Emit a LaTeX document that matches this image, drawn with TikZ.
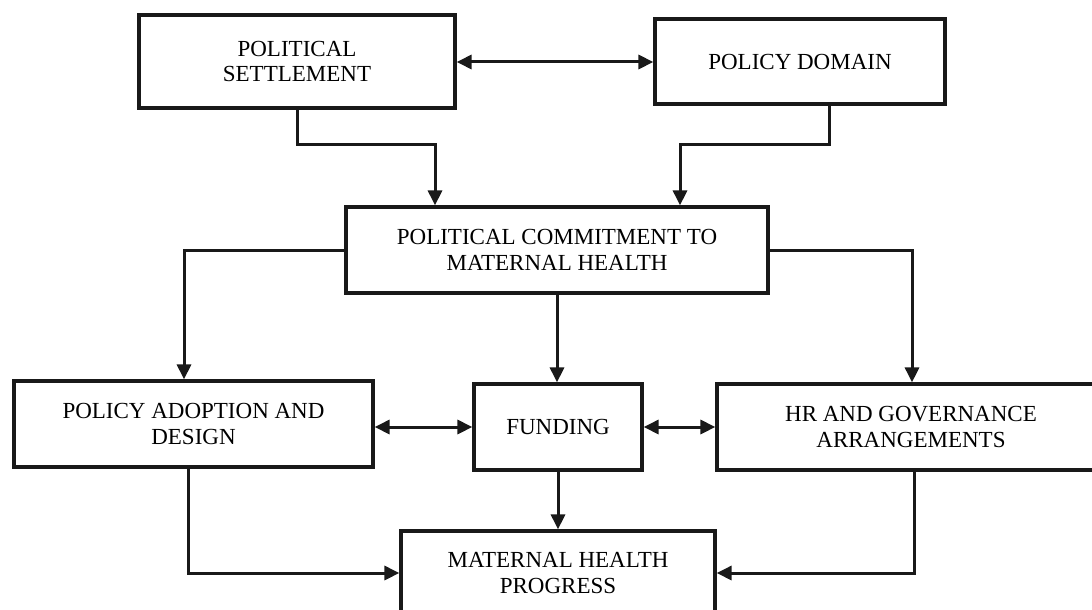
\documentclass[tikz,border=0pt]{standalone}
\usepackage{fontspec}
\setmainfont{Liberation Serif}
\usetikzlibrary{arrows.meta}
\begin{document}
\begin{tikzpicture}[x=1pt,y=-1pt,
  box/.style={draw=black!90, line width=3.2pt, inner sep=0pt, align=center,
    font=\fontsize{23}{25.5}\selectfont},
  conn/.style={draw=black!90, line width=3pt, -{Triangle[length=15pt,width=14pt]}},
  dconn/.style={draw=black!90, line width=3pt, {Triangle[length=15pt,width=14pt]}-{Triangle[length=15pt,width=14pt]}}]
\useasboundingbox (0,0) rectangle (1092,610);
\clip (0,0) rectangle (1092,610);
\fill[white] (0,0) rectangle (1092,610);
% boxes
\node[box, minimum width=316pt, minimum height=93pt] (ps) at (297,61.5) {POLITICAL\\SETTLEMENT};
\node[box, minimum width=290pt, minimum height=85pt] (pd) at (800,61.5) {POLICY DOMAIN};
\node[box, minimum width=422pt, minimum height=86pt] (pc) at (557,250) {POLITICAL COMMITMENT TO\\MATERNAL HEALTH};
\node[box, minimum width=359pt, minimum height=86pt] (pa) at (193.5,424) {POLICY ADOPTION AND\\DESIGN};
\node[box, minimum width=168pt, minimum height=86pt] (fu) at (558,427) {FUNDING};
\node[box, minimum width=388pt, minimum height=86pt] (hr) at (911,427) {HR AND GOVERNANCE\\ARRANGEMENTS};
\node[box, minimum width=314pt, minimum height=84pt] (mh) at (558,573) {MATERNAL HEALTH\\PROGRESS};
% connectors
\draw[dconn] (ps.east |- 0,62) -- (pd.west |- 0,62);
\draw[conn] (ps.south) -- ++(0,35) -| ([xshift=-122pt]pc.north);
\draw[conn] ([xshift=29pt]pd.south) -- ++(0,39) -| ([xshift=123pt]pc.north);
\draw[conn] (pc.west) -| ([xshift=-9.5pt]pa.north);
\draw[conn] (pc.south) -- (pc.south |- fu.north);
\draw[conn] (pc.east) -| ([xshift=1pt]hr.north);
\draw[dconn] (pa.east |- fu.west) -- (fu.west);
\draw[dconn] (fu.east) -- (hr.west);
\draw[conn] (fu.south) -- (mh.north);
\draw[conn] ([xshift=-5.5pt]pa.south) |- (mh.west);
\draw[conn] ([xshift=3pt]hr.south) |- (mh.east);
\end{tikzpicture}
\end{document}
